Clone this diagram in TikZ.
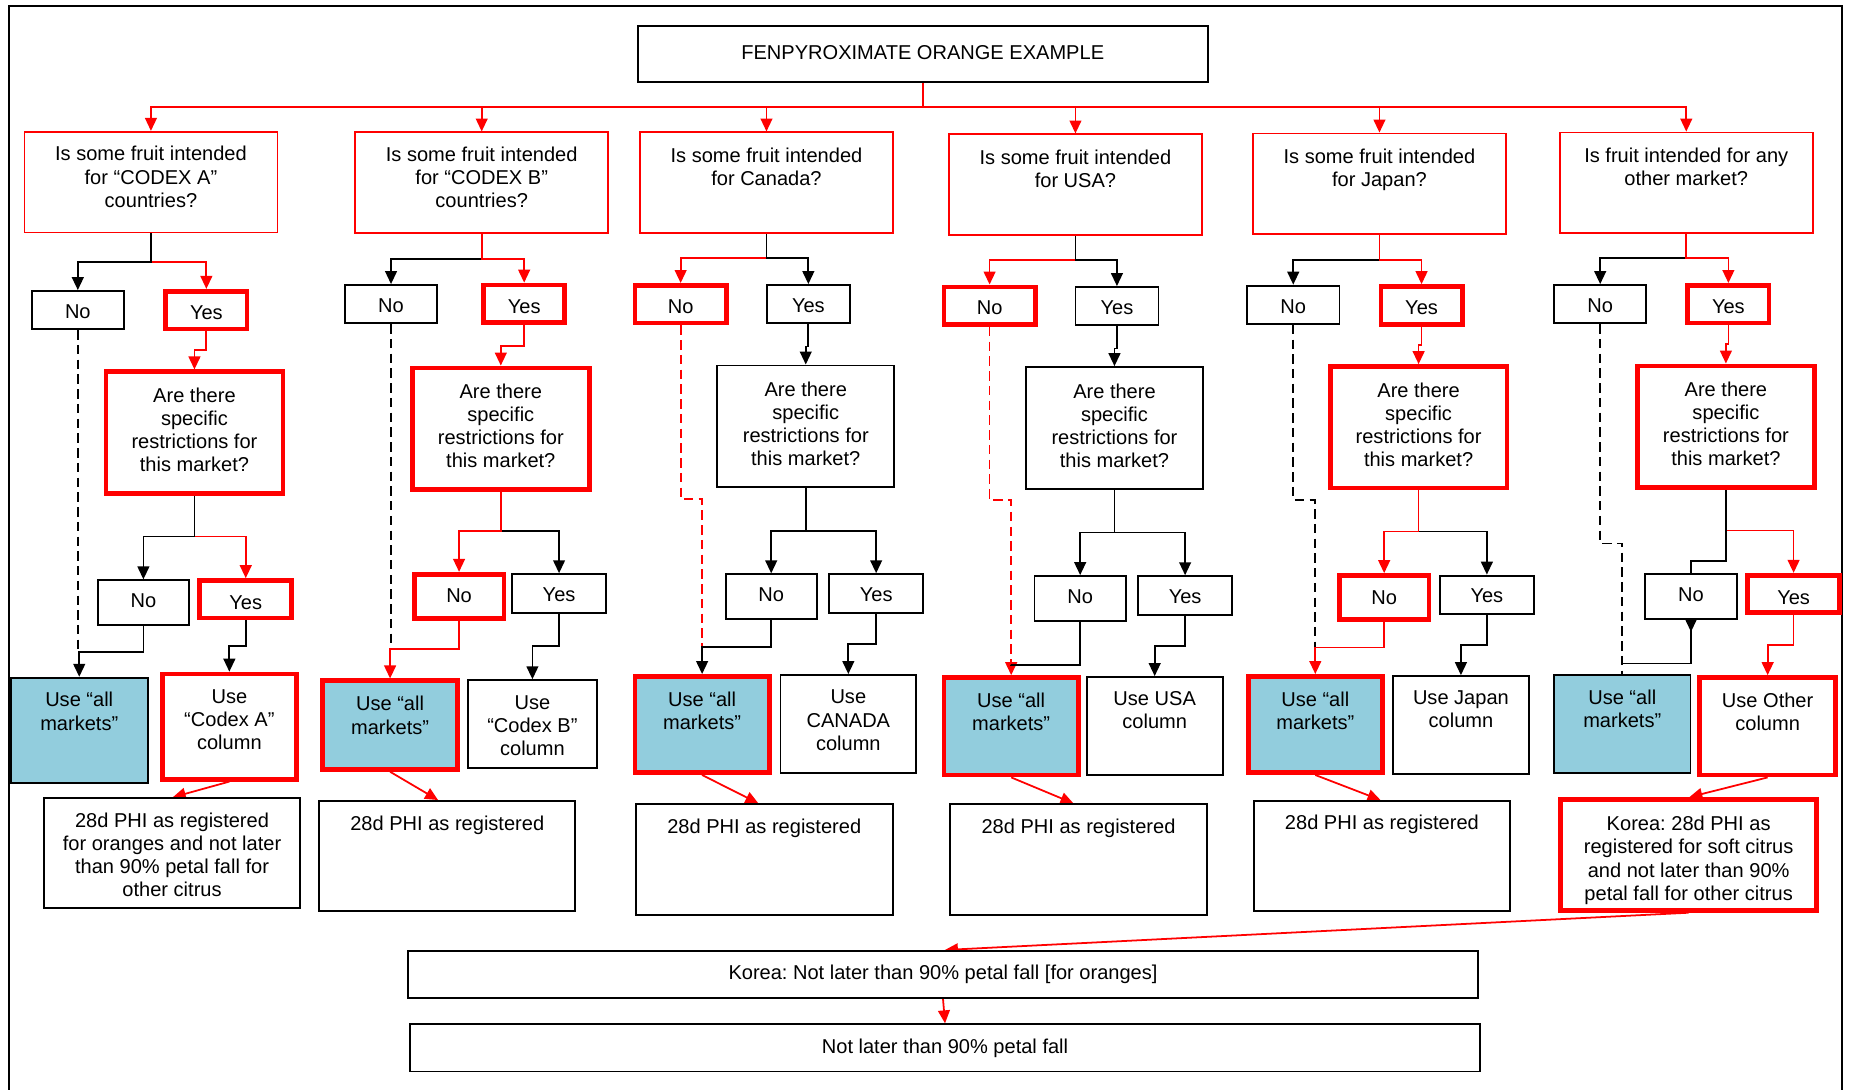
\documentclass[tikz,border=0pt]{standalone}
\usepackage{fontspec}
\setmainfont{Liberation Sans}
\usetikzlibrary{arrows.meta,backgrounds}
\definecolor{allblue}{RGB}{146,205,221}
\newcommand\myfnt{\fontsize{17pt}{19.6pt}\selectfont}
\frenchspacing
\begin{document}
\begin{tikzpicture}[x=1pt,y=-1pt,font=\myfnt,
  every node/.style={inner sep=0pt},
  lab/.style 2 args={label={[anchor=north,yshift=-#1pt,align=center]north:{#2}}},
  bx/.style={draw=black,line width=1.6pt,fill=white},
  tb/.style={draw=red,line width=4pt,fill=white},
  qb/.style={draw=red,line width=1.5pt,fill=white,minimum width=214.5pt,minimum height=85.5pt},
  amf/.style={fill=allblue},
  n2t/.style={bx,minimum width=78.4pt,minimum height=32.4pt,lab={12.5}{No}},
  y2t/.style={bx,minimum width=70.4pt,minimum height=32.4pt,lab={12.5}{Yes}},
  n2r/.style={tb,minimum width=77.5pt,minimum height=32pt,lab={13.8}{No}},
  y2r/.style={tb,minimum width=69pt,minimum height=32pt,lab={14}{Yes}},
  rqt/.style={tb,minimum width=150pt,minimum height=103pt,lab={15.5}{Are there\\specific\\restrictions for\\this market?}},
  rqb/.style={bx,minimum width=150.4pt,minimum height=103.4pt,lab={14.5}{Are there\\specific\\restrictions for\\this market?}},
  n3t/.style={bx,minimum width=77.4pt,minimum height=38pt,lab={12}{No}},
  y3t/.style={bx,minimum width=79.4pt,minimum height=32.6pt,lab={12}{Yes}},
  n3r/.style={tb,minimum width=76pt,minimum height=37.3pt,lab={14.5}{No}},
  y3r/.style={tb,minimum width=78pt,minimum height=31.8pt,lab={15}{Yes}},
  bk/.style={draw=black,line width=1.5pt},
  rd/.style={draw=red,line width=1.5pt},
  ar/.style={-{Triangle[length=11pt,width=10pt]}},
  dsh/.style={dash pattern=on 8pt off 4.5pt}
]
\useasboundingbox (0,0) rectangle (1568,924);
\draw[line width=1.5pt] (7.5,935) -- (7.5,5) -- (1562,5) -- (1562,935);

% title
\node[bx,minimum width=483.4pt,minimum height=47.4pt,text height=9.2pt,text depth=0pt] (title) at (782.5,45.7) {FENPYROXIMATE ORANGE EXAMPLE};

% questions
\node[qb,lab={13}{Is some fruit intended\\for “CODEX A”\\countries?}] (q1) at (128,154.5) {};
\node[qb,lab={13}{Is some fruit intended\\for “CODEX B”\\countries?}] (q2) at (408.5,155) {};
\node[qb,lab={13.5}{Is some fruit intended\\for Canada?}] (q3) at (650,155) {};
\node[qb,lab={13.5}{Is some fruit intended\\for USA?}] (q4) at (912,156.7) {};
\node[qb,lab={13.5}{Is some fruit intended\\for Japan?}] (q5) at (1169.8,155.9) {};
\node[qb,lab={13.5}{Is fruit intended for any\\other market?}] (q6) at (1430,155.1) {};

% level 2
\node[n2t] (n1) at (66,263) {};
\node[y2r] (y1) at (175,263) {};
\node[n2t] (n2) at (331.6,257.9) {};
\node[y2r] (y2) at (444.5,257.7) {};
\node[n2r] (n3) at (577.2,258) {};
\node[y2t] (y3) at (685.5,257.9) {};
\node[n2r] (n4) at (839.2,259.3) {};
\node[y2t] (y4) at (947.2,259.6) {};
\node[n2t] (n5) at (1096.7,258.4) {};
\node[y2r] (y5) at (1205.5,259) {};
\node[n2t] (n6) at (1357,257.9) {};
\node[y2r] (y6) at (1465.7,258) {};

% restrictions
\node[rqt] (r1) at (164.9,366.8) {};
\node[rqt] (r2) at (424.7,363.5) {};
\node[rqb] (r3) at (683.3,361.6) {};
\node[rqb] (r4) at (945.1,363) {};
\node[rqt] (r5) at (1203,362.3) {};
\node[rqt] (r6) at (1463.6,361.8) {};

% level 3
\node[n3t] (n1b) at (121.6,511.1) {};
\node[y3r] (y1b) at (208.4,508.2) {};
\node[n3r] (n2b) at (389.3,505.6) {};
\node[y3t] (y2b) at (474.1,503.2) {};
\node[n3t] (n3b) at (654,506) {};
\node[y3t] (y3b) at (743,503.2) {};
\node[n3t] (n4b) at (916,507.5) {};
\node[y3t] (y4b) at (1005,504.9) {};
\node[n3r] (n5b) at (1173.8,506.7) {};
\node[y3t] (y5b) at (1260.9,504.4) {};
\node[n3t] (n6b) at (1434,506) {};
\node[y3r] (y6b) at (1521,503.7) {};

% result columns
\node[bx,amf,minimum width=116pt,minimum height=89.3pt,lab={13}{Use “all\\markets”}] (am1) at (67.2,619.4) {};
\node[tb,minimum width=113.4pt,minimum height=89.2pt,lab={15}{Use\\“Codex A”\\column}] (ca) at (194.5,616.2) {};
\node[tb,amf,minimum width=114.4pt,minimum height=75.1pt,lab={15}{Use “all\\markets”}] (am2) at (330.8,614.9) {};
\node[bx,minimum width=110pt,minimum height=74.8pt,lab={13.4}{Use\\“Codex B”\\column}] (cb) at (451.5,614.2) {};
\node[tb,amf,minimum width=113.7pt,minimum height=81.6pt,lab={15}{Use “all\\markets”}] (am3) at (595.4,614.4) {};
\node[bx,minimum width=115pt,minimum height=83.4pt,lab={13.5}{Use\\CANADA\\column}] (cc) at (719.4,614.1) {};
\node[tb,amf,minimum width=114pt,minimum height=82.7pt,lab={15}{Use “all\\markets”}] (am4) at (857.5,615.9) {};
\node[bx,minimum width=115.4pt,minimum height=83.1pt,lab={12.5}{Use USA\\column}] (cu) at (979.2,615.7) {};
\node[tb,amf,minimum width=113.4pt,minimum height=81.6pt,lab={15}{Use “all\\markets”}] (am5) at (1115.4,614.4) {};
\node[bx,minimum width=115.8pt,minimum height=83.1pt,lab={12.7}{Use Japan\\column}] (cj) at (1238.9,614.9) {};
\node[bx,amf,minimum width=115.7pt,minimum height=83.4pt,lab={13}{Use “all\\markets”}] (am6) at (1375.7,614.1) {};
\node[tb,minimum width=115pt,minimum height=82.7pt,lab={15}{Use Other\\column}] (co) at (1499,615.9) {};

% PHI boxes
\node[bx,minimum width=217.7pt,minimum height=93.4pt,lab={13}{28d PHI as registered\\for oranges and not later\\than 90\% petal fall for\\other citrus}] (p1) at (145.9,723.6) {};
\node[bx,minimum width=216.9pt,minimum height=93.1pt,lab={13.6}{28d PHI as registered}] (p2) at (379.3,725.8) {};
\node[bx,minimum width=218.2pt,minimum height=93.7pt,lab={12.7}{28d PHI as registered}] (p3) at (648.1,728.9) {};
\node[bx,minimum width=218.2pt,minimum height=93.7pt,lab={12.7}{28d PHI as registered}] (p4) at (914.6,728.9) {};
\node[bx,minimum width=217.1pt,minimum height=93.1pt,lab={12.7}{28d PHI as registered}] (p5) at (1171.9,725.8) {};
\node[tb,minimum width=217pt,minimum height=94pt,lab={16}{Korea: 28d PHI as\\registered for soft citrus\\and not later than 90\%\\petal fall for other citrus}] (p6) at (1432,725) {};

% bottom boxes
\node[bx,minimum width=907pt,minimum height=40pt,lab={12.7}{Korea: Not later than 90\% petal fall [for oranges]}] (korea) at (799.7,826.4) {};
\node[bx,minimum width=907.1pt,minimum height=40pt,lab={12.7}{Not later than 90\% petal fall}] (final) at (801.4,888.6) {};

\begin{scope}[on background layer]
% bus
\draw[rd] (title.south) -- ++(0,20.8) coordinate (bus);
\foreach \q in {q1,q2,q3,q4,q5,q6} {\draw[rd,ar] (bus) -| (\q.north);}

% question branches
\draw[rd,ar] (q1.south) -- ++(0,24) -| (y1.north);
\draw[bk,ar] (q1.south) -- ++(0,24) -| (n1.north);
\draw[bk,ar] (q2.south) -- ++(0,21) -| (n2.north);
\draw[rd,ar] (q2.south) -- ++(0,21) -| (y2.north);
\draw[rd,ar] (q3.south) -- ++(0,20.5) -| (n3.north);
\draw[bk,ar] (q3.south) -- ++(0,20.5) -| (y3.north);
\draw[rd,ar] (q4.south) -- ++(0,20.5) -| (n4.north);
\draw[bk,ar] (q4.south) -- ++(0,20.5) -| (y4.north);
\draw[bk,ar] (q5.south) -- ++(0,21) -| (n5.north);
\draw[rd,ar] (q5.south) -- ++(0,21) -| (y5.north);
\draw[bk,ar] (q6.south) -- ++(0,20.5) -| (n6.north);
\draw[rd,ar] (q6.south) -- ++(0,20.5) -| (y6.north);

% yes -> restrictions
\draw[rd,ar] (y1.south) -- ++(0,16) -| (r1.north);
\draw[rd,ar] (y2.south) -- ++(0,17.6) -| (r2.north);
\draw[bk,ar] (y3.south) -- ++(0,19) -| (r3.north);
\draw[bk,ar] (y4.south) -- ++(0,19) -| (r4.north);
\draw[rd,ar] (y5.south) -- ++(0,15.6) -| (r5.north);
\draw[rd,ar] (y6.south) -- ++(0,15.6) -| (r6.north);

% restriction branches
\draw[rd,ar] (r1.south) -- ++(0,34.6) -| (y1b.north);
\draw[bk,ar] (r1.south) -- ++(0,34.6) -| (n1b.north);
\draw[bk,ar] (r2.south) -- ++(0,33.6) -| (y2b.north);
\draw[rd,ar] (r2.south) -- ++(0,33.6) -| (n2b.north);
\draw[bk,ar] (r3.south) -- ++(0,36) -| (n3b.north);
\draw[bk,ar] (r3.south) -- ++(0,36) -| (y3b.north);
\draw[bk,ar] (r4.south) -- ++(0,36) -| (n4b.north);
\draw[bk,ar] (r4.south) -- ++(0,36) -| (y4b.north);
\draw[bk,ar] (r5.south) -- ++(0,35) -| (y5b.north);
\draw[rd,ar] (r5.south) -- ++(0,35) -| (n5b.north);
\draw[rd,ar] (r6.south) -- ++(0,34.5) -| (y6b.north);
\draw[bk,ar] (r6.south) -- ++(0,60.7) -| ([yshift=-10pt]n6b.south);

% dashed "No" routes
\draw[bk,dsh] (n1.south) -- ++(0,272.7);
\draw[bk,dsh] (n2.south) -- ++(0,275.8);
\draw[rd,dsh] (n3.south) -- ++(0,147.2) -| ([yshift=23.2pt]am3.north);
\draw[rd,dsh,ar] (n4.south) -- ++(0,146.7) -| (am4.north);
\draw[bk,dsh] (n5.south) -- ++(0,148.6) -| ([yshift=22.6pt]am5.north);
\draw[bk,dsh] (n6.south) -- ++(0,185.9) -| (am6.north);

% level 3 -> results
\draw[bk,ar] (n1b.south) -- ++(0,21.7) -| (am1.north);
\draw[bk,ar] (y1b.south) -- ++(0,22) -| (ca.north);
\draw[rd,ar] (n2b.south) -- ++(0,24) -| (am2.north);
\draw[bk,ar] (y2b.south) -- ++(0,27.7) -| (cb.north);
\draw[bk,ar] (n3b.south) -- ++(0,22.6) -| (am3.north);
\draw[bk,ar] (y3b.south) -- ++(0,26) -| (cc.north);
\draw[bk] (n4b.south) -- ++(0,36.8) -| ([yshift=8.5pt]am4.north);
\draw[bk,ar] (y4b.south) -- ++(0,25.5) -| (cu.north);
\draw[rd,ar] (n5b.south) -- ++(0,21.8) -| (am5.north);
\draw[bk,ar] (y5b.south) -- ++(0,25.4) -| (cj.north);
\draw[bk] (n6b.south) -- ++(0,36.8) -| ([yshift=9pt]am6.north);
\draw[rd,ar] (y6b.south) -- ++(0,25.4) -| (co.north);

% results -> PHI
\draw[rd,ar] (ca.south) -- ([xshift=0.6pt]p1.north);
\draw[rd,ar] (am2.south) -- ([xshift=-7.8pt]p2.north);
\draw[rd,ar] (am3.south) -- ([xshift=-5pt]p3.north);
\draw[rd,ar] (am4.south) -- ([xshift=-4.3pt]p4.north);
\draw[rd,ar] (am5.south) -- ([xshift=-1.2pt]p5.north);
\draw[rd,ar] (co.south) -- ([xshift=0.6pt]p6.north);
\draw[rd,ar] (p6.south) -- ([xshift=1.6pt]korea.north);
\draw[rd,ar] (korea.south) -- (final.north);
\end{scope}
\end{tikzpicture}
\end{document}
